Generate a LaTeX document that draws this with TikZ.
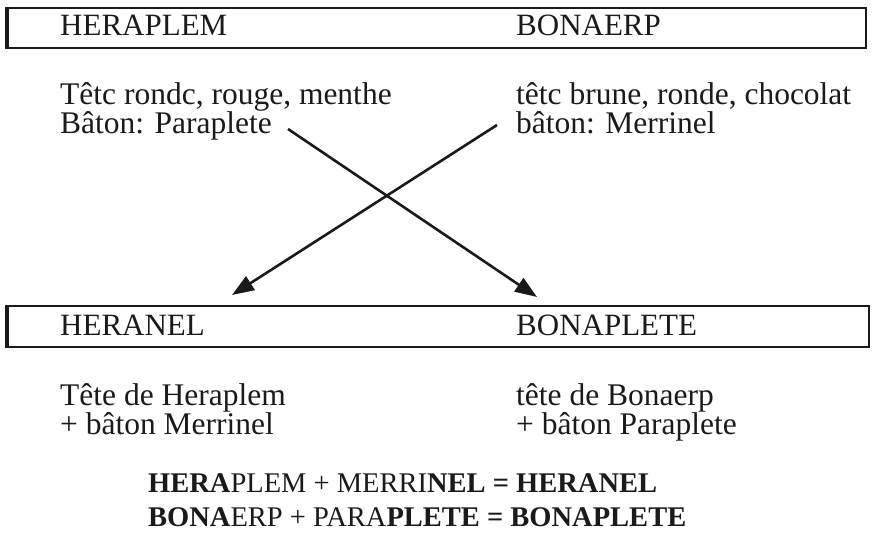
\documentclass[tikz,border=0pt]{standalone}
\usepackage{fontspec}
\setmainfont{Liberation Serif}
\usetikzlibrary{arrows.meta}
\definecolor{ink}{HTML}{1A1A1A}
\begin{document}
\begin{tikzpicture}[x=1pt,y=-1pt,
  txt/.style={anchor=base west,inner sep=0pt,text=ink,font=\fontsize{31.5}{31.5}\selectfont},
  head/.style={txt,font=\fontsize{31}{31}\selectfont},
  bold/.style={txt,font=\fontsize{28.5}{28.5}\selectfont},
  band/.style={draw=ink,line width=2pt},
  bandleft/.style={draw=ink,line width=4pt},
  cross/.style={draw=ink,line width=2.6pt,-{Triangle[length=22pt,width=16pt]}}]
\useasboundingbox (0,0) rectangle (872,538);

% header band for the two parents
\draw[band] (7,8) rectangle (866,48);
\draw[bandleft] (7,7) -- (7,49);
\node[head] (hera) at (60,35) {HERAPLEM};
\node[head] (bona) at (516,35) {BONAERP};

% description of the parents
\node[txt] (h1) at (60,104) {Têtc rondc, rouge, menthe};
\node[txt] (h2) at (60,133) {Bâton: Paraplete};
\node[txt] (b1) at (516,104) {têtc brune, ronde, chocolat};
\node[txt] (b2) at (516,133) {bâton: Merrinel};

% header band for the two offspring
\draw[band] (7,306) rectangle (869,347);
\draw[bandleft] (7,305) -- (7,348);
\node[head] (hnel) at (60,335) {HERANEL};
\node[head] (bplt) at (516,335) {BONAPLETE};

% description of the offspring
\node[txt] (n1) at (60,405) {Tête de Heraplem};
\node[txt] (n2) at (60,434) {+ bâton Merrinel};
\node[txt] (p1) at (516,405) {tête de Bonaerp};
\node[txt] (p2) at (516,434) {+ bâton Paraplete};

% summary formulas
\node[bold] (f1) at (148,492) {\textbf{HERA}PLEM + MERRI\textbf{NEL = HERANEL}};
\node[bold] (f2) at (148,526) {\textbf{BONA}ERP + PARA\textbf{PLETE = BONAPLETE}};

% crossing arrows: each stick goes to the other child
\coordinate (sA) at (288,129);
\coordinate (eA) at (537,297);
\coordinate (sB) at (497,125);
\coordinate (eB) at (232,295);
\draw[cross] (sA) -- (eA);
\draw[cross] (sB) -- (eB);
\end{tikzpicture}
\end{document}
